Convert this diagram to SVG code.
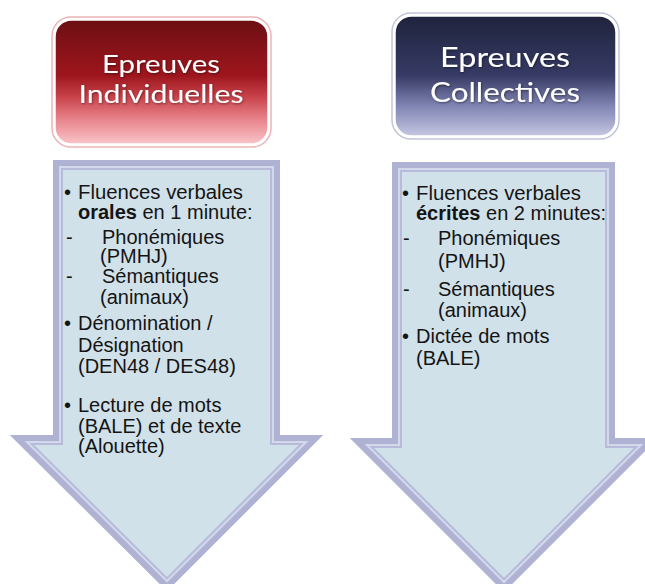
<svg xmlns="http://www.w3.org/2000/svg" width="645" height="584" viewBox="0 0 645 584">
  <defs>
    <linearGradient id="gRed" x1="0" y1="0" x2="0" y2="1">
      <stop offset="0" stop-color="#6c0f13"/>
      <stop offset="0.45" stop-color="#9e161d"/>
      <stop offset="0.62" stop-color="#c9434b"/>
      <stop offset="0.8" stop-color="#e9848c"/>
      <stop offset="1" stop-color="#f8c6ca"/>
    </linearGradient>
    <linearGradient id="gBlue" x1="0" y1="0" x2="0" y2="1">
      <stop offset="0" stop-color="#1f233d"/>
      <stop offset="0.5" stop-color="#373b65"/>
      <stop offset="0.75" stop-color="#8185b3"/>
      <stop offset="1" stop-color="#c6c8e3"/>
    </linearGradient>
    <filter id="tshadow" x="-10%" y="-30%" width="120%" height="160%">
      <feDropShadow dx="0.8" dy="1" stdDeviation="0.8" flood-color="#000000" flood-opacity="0.45"/>
    </filter>
    <clipPath id="clipL">
      <polygon points="53,160 280,160 280,435 323,435 167,591 10,435 53,435"/>
    </clipPath>
    <clipPath id="clipR">
      <polygon points="392,162 615,162 615,438 658,438 504,592 350,438 392,438"/>
    </clipPath>
    <style>
      .fill { fill: #d1e1e9; }
      .b1 { fill: none; stroke: #b7bbd9; stroke-width: 20; stroke-linejoin: miter; stroke-miterlimit: 10; }
      .b2 { fill: none; stroke: #d2d9ea; stroke-width: 16; stroke-linejoin: miter; stroke-miterlimit: 10; }
      .b3 { fill: none; stroke: #b0b2d4; stroke-width: 12; stroke-linejoin: miter; stroke-miterlimit: 10; }
      .hdr { font-family: Lato, "Open Sans", "DejaVu Sans", sans-serif; fill: #ffffff; text-anchor: middle; filter: url(#tshadow); }
      .body { font-family: "Liberation Sans", Arial, sans-serif; font-size: 20px; fill: #141414; }
      .bold { font-weight: bold; }
    </style>
  </defs>

  <g id="arrow-individuelles">
    <g clip-path="url(#clipL)">
      <polygon class="fill" points="53,160 280,160 280,435 323,435 167,591 10,435 53,435"/>
      <polygon class="b1" points="53,160 280,160 280,435 323,435 167,591 10,435 53,435"/>
      <polygon class="b2" points="53,160 280,160 280,435 323,435 167,591 10,435 53,435"/>
      <polygon class="b3" points="53,160 280,160 280,435 323,435 167,591 10,435 53,435"/>
    </g>
    <text class="body" x="64" y="199">•</text>
    <text class="body" x="78" y="199" textLength="165" lengthAdjust="spacingAndGlyphs">Fluences verbales</text>
    <text class="body" x="78" y="219"><tspan class="bold">orales</tspan> en 1 minute:</text>
    <text class="body" x="66" y="244">-</text>
    <text class="body" x="102" y="244">Phonémiques</text>
    <text class="body" x="100" y="263">(PMHJ)</text>
    <text class="body" x="66" y="283">-</text>
    <text class="body" x="102" y="283">Sémantiques</text>
    <text class="body" x="100" y="304">(animaux)</text>
    <text class="body" x="64" y="330">•</text>
    <text class="body" x="78" y="330">Dénomination /</text>
    <text class="body" x="78" y="352">Désignation</text>
    <text class="body" x="78" y="373">(DEN48 / DES48)</text>
    <text class="body" x="64" y="412">•</text>
    <text class="body" x="78" y="412">Lecture de mots</text>
    <text class="body" x="78" y="433">(BALE) et de texte</text>
    <text class="body" x="78" y="453">(Alouette)</text>
  </g>

  <g id="arrow-collectives">
    <g clip-path="url(#clipR)">
      <polygon class="fill" points="392,162 615,162 615,438 658,438 504,592 350,438 392,438"/>
      <polygon class="b1" points="392,162 615,162 615,438 658,438 504,592 350,438 392,438"/>
      <polygon class="b2" points="392,162 615,162 615,438 658,438 504,592 350,438 392,438"/>
      <polygon class="b3" points="392,162 615,162 615,438 658,438 504,592 350,438 392,438"/>
    </g>
    <text class="body" x="402" y="200">•</text>
    <text class="body" x="416" y="200" textLength="165" lengthAdjust="spacingAndGlyphs">Fluences verbales</text>
    <text class="body" x="416" y="220"><tspan class="bold">écrites</tspan> en 2 minutes:</text>
    <text class="body" x="403" y="245">-</text>
    <text class="body" x="438" y="245">Phonémiques</text>
    <text class="body" x="438" y="268">(PMHJ)</text>
    <text class="body" x="403" y="296">-</text>
    <text class="body" x="438" y="296">Sémantiques</text>
    <text class="body" x="438" y="317">(animaux)</text>
    <text class="body" x="402" y="343">•</text>
    <text class="body" x="416" y="343">Dictée de mots</text>
    <text class="body" x="416" y="365">(BALE)</text>
  </g>

  <g id="header-individuelles">
    <rect x="52" y="17" width="219" height="130" rx="19" ry="19" fill="none" stroke="#ecb4b8" stroke-width="1.5"/>
    <rect x="54.5" y="19.5" width="214" height="125" rx="17" ry="17" fill="url(#gRed)" stroke="#ffffff" stroke-width="2.5"/>
    <text class="hdr" x="161" y="73" font-size="25" textLength="118" lengthAdjust="spacingAndGlyphs">Epreuves</text>
    <text class="hdr" x="161" y="103" font-size="25" textLength="165" lengthAdjust="spacingAndGlyphs">Individuelles</text>
  </g>

  <g id="header-collectives">
    <rect x="392" y="13" width="227" height="126" rx="19" ry="19" fill="none" stroke="#c2c4dc" stroke-width="1.5"/>
    <rect x="394.5" y="15.5" width="222" height="121" rx="17" ry="17" fill="url(#gBlue)" stroke="#ffffff" stroke-width="2.5"/>
    <text class="hdr" x="505" y="67" font-size="27" textLength="130" lengthAdjust="spacingAndGlyphs">Epreuves</text>
    <text class="hdr" x="505" y="102" font-size="27" textLength="150" lengthAdjust="spacingAndGlyphs">Collectives</text>
  </g>

  <g id="connectors"></g>
</svg>
